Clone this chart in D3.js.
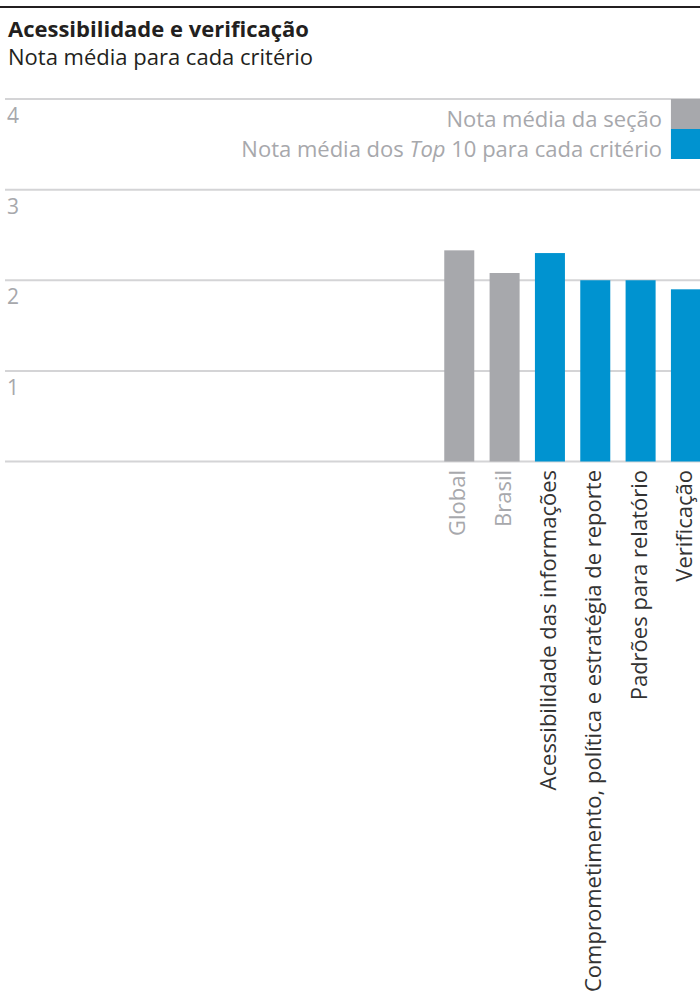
<!DOCTYPE html>
<html>
<head>
<meta charset="utf-8">
<script src="https://cdn.jsdelivr.net/npm/d3@7"></script>
<style>
  html, body { margin: 0; padding: 0; background: #fff; }
  svg { display: block; font-family: "Open Sans", "Noto Sans", sans-serif; }
</style>
</head>
<body>
<svg id="chart" width="700" height="992"></svg>
<script>
// Average score per criterion (scale 0–4)
const categories = ["Global", "Brasil", "Acessibilidade das informações",
  "Comprometimento, política e estratégia de reporte", "Padrões para relatório", "Verificação"];
const values = [2.33, 2.08, 2.30, 2.00, 2.00, 1.90];
const groups = ["secao", "secao", "top10", "top10", "top10", "top10"];
const yTicks = [0, 1, 2, 3, 4];

const colors = { secao: "#A7A8AC", top10: "#0093D0" };
const labelColors = { secao: "#A7A8AC", top10: "#333333" };

const svg = d3.select("#chart");
const W = 700;
const FS = 22;

// Header rule, title and subtitle
svg.append("line").attr("x1", 0).attr("x2", W).attr("y1", 7).attr("y2", 7)
  .attr("stroke", "#231F20").attr("stroke-width", 2);
svg.append("text").attr("x", 8).attr("y", 37)
  .attr("font-size", FS).attr("font-weight", 700).attr("fill", "#231F20")
  .text("Acessibilidade e verificação");
svg.append("text").attr("x", 8).attr("y", 65)
  .attr("font-size", FS).attr("fill", "#231F20")
  .text("Nota média para cada critério");

// Scales
const y = d3.scaleLinear().domain([0, 4]).range([461.5, 99]);
const x = d3.scaleBand().domain(categories).range([436.6, 708.6])
  .paddingInner(0.338).paddingOuter(0.169);

// Gridlines with value labels
const grid = svg.append("g");
grid.selectAll("line").data(yTicks).join("line")
  .attr("x1", 5).attr("x2", W)
  .attr("y1", d => y(d)).attr("y2", d => y(d))
  .attr("stroke", "#D4D4D6").attr("stroke-width", 2);
grid.selectAll("text").data(yTicks.filter(d => d > 0)).join("text")
  .attr("x", 7).attr("y", d => y(d) + 24)
  .attr("font-size", 21).attr("fill", "#A7A8AC")
  .text(d => d);

// Legend
const legend = [
  { key: "secao", y: 99 },
  { key: "top10", y: 129 }
];
svg.selectAll("rect.leg").data(legend).join("rect").attr("class", "leg")
  .attr("x", x(categories[5])).attr("y", d => d.y)
  .attr("width", 30).attr("height", 30)
  .attr("fill", d => colors[d.key]);
svg.append("text").attr("x", 662).attr("y", 127).attr("text-anchor", "end")
  .attr("font-size", FS).attr("fill", "#A7A8AC")
  .text("Nota média da seção");
const l2 = svg.append("text").attr("x", 662).attr("y", 157).attr("text-anchor", "end")
  .attr("font-size", FS).attr("fill", "#A7A8AC");
l2.append("tspan").text("Nota média dos ");
l2.append("tspan").attr("font-style", "italic").text("Top");
l2.append("tspan").text(" 10 para cada critério");

// Bars
svg.append("g").selectAll("rect").data(categories).join("rect")
  .attr("x", d => x(d)).attr("width", x.bandwidth())
  .attr("y", (d, i) => y(values[i]))
  .attr("height", (d, i) => y(0) - y(values[i]))
  .attr("fill", (d, i) => colors[groups[i]]);

// Rotated category labels
svg.append("g").selectAll("text").data(categories).join("text")
  .attr("transform", d => `translate(${x(d) + x.bandwidth() / 2 + 6},470) rotate(-90)`)
  .attr("text-anchor", "end")
  .attr("font-size", FS)
  .attr("fill", (d, i) => labelColors[groups[i]])
  .text(d => d);
</script>
</body>
</html>
